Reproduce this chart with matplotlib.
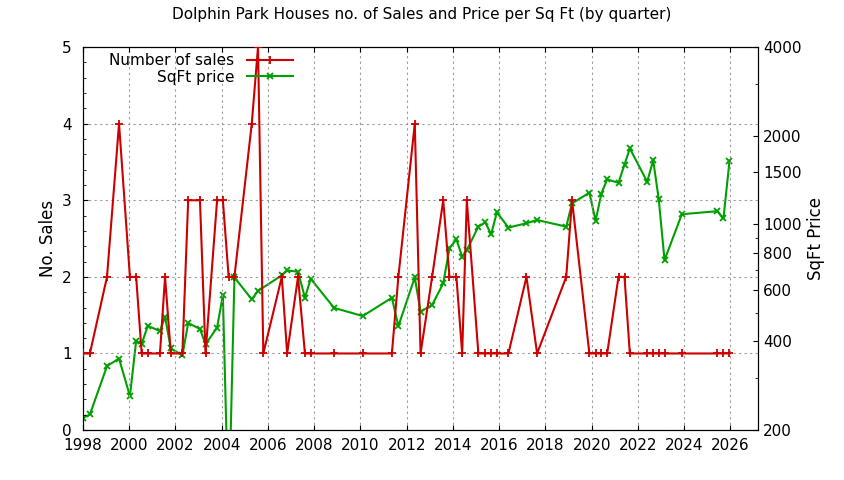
import matplotlib
matplotlib.use('Agg')
import matplotlib.pyplot as plt
from matplotlib.ticker import FixedLocator, FixedFormatter, NullFormatter, MultipleLocator

# number of sales per quarter
sales_t = [1998.0, 1998.3, 1999.04, 1999.56, 2000.03, 2000.3, 2000.54, 2000.8, 2001.33, 2001.55,
           2001.8, 2002.3, 2002.55, 2003.06, 2003.3, 2003.8, 2004.05, 2004.3, 2004.55, 2005.3,
           2005.57, 2005.8, 2006.6, 2006.83, 2007.3, 2007.6, 2007.85, 2008.86, 2010.1, 2011.36,
           2011.64, 2012.35, 2012.6, 2013.1, 2013.58, 2013.85, 2014.15, 2014.4, 2014.6, 2015.1,
           2015.4, 2015.65, 2015.9, 2016.4, 2017.18, 2017.64, 2018.9, 2019.15, 2019.9, 2020.17,
           2020.42, 2020.67, 2021.16, 2021.42, 2021.65, 2022.4, 2022.66, 2022.9, 2023.15, 2023.9,
           2025.43, 2025.7, 2025.96]
sales_n = [1, 1, 2, 4, 2, 2, 1, 1, 1, 2,
           1, 1, 3, 3, 1, 3, 3, 2, 2, 4,
           5, 1, 2, 1, 2, 1, 1, 1, 1, 1,
           2, 4, 1, 2, 3, 2, 2, 1, 3, 1,
           1, 1, 1, 1, 2, 1, 2, 3, 1, 1,
           1, 1, 2, 2, 1, 1, 1, 1, 1, 1,
           1, 1, 1]
# price per sq ft (None = no value that quarter)
price = [220, 226, 330, 350, 261, 401, 392, 452, 434, 485,
         379, 359, 462, 441, 391, 446, 574, 100, 660, 556,
         594, None, 671, 697, 690, 563, 653, 520, 488, 563,
         451, 660, 505, 532, 630, 829, 888, 776, 817, 982,
         1015, 924, 1098, 975, 1008, 1034, 982, 1178, 1280, 1028,
         1272, 1420, 1384, 1596, 1810, 1395, 1650, 1218, 756, 1082,
         1108, 1048, 1640]
price_t = [t for t, p in zip(sales_t, price) if p is not None]
price_v = [p for p in price if p is not None]

red = '#cc0000'
green = '#00a000'

fig = plt.figure(figsize=(8.44, 4.8), dpi=100)
ax1 = fig.add_axes([0.0983, 0.104, 0.8, 0.798])
ax2 = ax1.twinx()

l1, = ax1.plot(sales_t, sales_n, color=red, lw=1.5, marker='+', ms=6, mew=1.3, label='Number of sales', zorder=3)
l2, = ax2.plot(price_t, price_v, color=green, lw=1.5, marker='x', ms=4, mew=1.3, label='SqFt price')

ax1.set_xlim(1998, 2027.2)
ax1.set_ylim(0, 5)
ax1.xaxis.set_major_locator(MultipleLocator(2))
ax1.yaxis.set_major_locator(MultipleLocator(1))
ax1.yaxis.set_minor_locator(MultipleLocator(0.2))
ax1.grid(True, color='#999999', ls=(0, (2, 3)), lw=0.8)
ax1.set_ylabel('No. Sales', fontsize=12)
ax1.tick_params(which='both', direction='in', top=True, labelsize=11)
ax1.tick_params(axis='x', pad=6)
ax1.tick_params(axis='y', pad=8)

ax2.set_yscale('log')
ax2.set_ylim(200, 4000)
ax2.yaxis.set_major_locator(FixedLocator([200, 400, 600, 800, 1000, 1500, 2000, 4000]))
ax2.yaxis.set_major_formatter(FixedFormatter(['200', '400', '600', '800', '1000', '1500', '2000', '4000']))
ax2.yaxis.set_minor_locator(FixedLocator([300, 500, 700, 900, 3000]))
ax2.yaxis.set_minor_formatter(NullFormatter())
ax2.set_ylabel('SqFt Price', fontsize=12)
ax2.tick_params(which='both', direction='in', labelsize=11)
ax1.set_zorder(ax2.get_zorder() + 1)
ax1.patch.set_visible(False)

ax1.legend(handles=[l1, l2], loc='upper left', bbox_to_anchor=(0.03, 1.0), frameon=False,
           markerfirst=False, fontsize=11, handlelength=3, labelspacing=0.1, borderaxespad=0)

fig.suptitle('Dolphin Park Houses no. of Sales and Price per Sq Ft (by quarter)', fontsize=11, y=0.985)
fig.savefig('out.png', dpi=100)
